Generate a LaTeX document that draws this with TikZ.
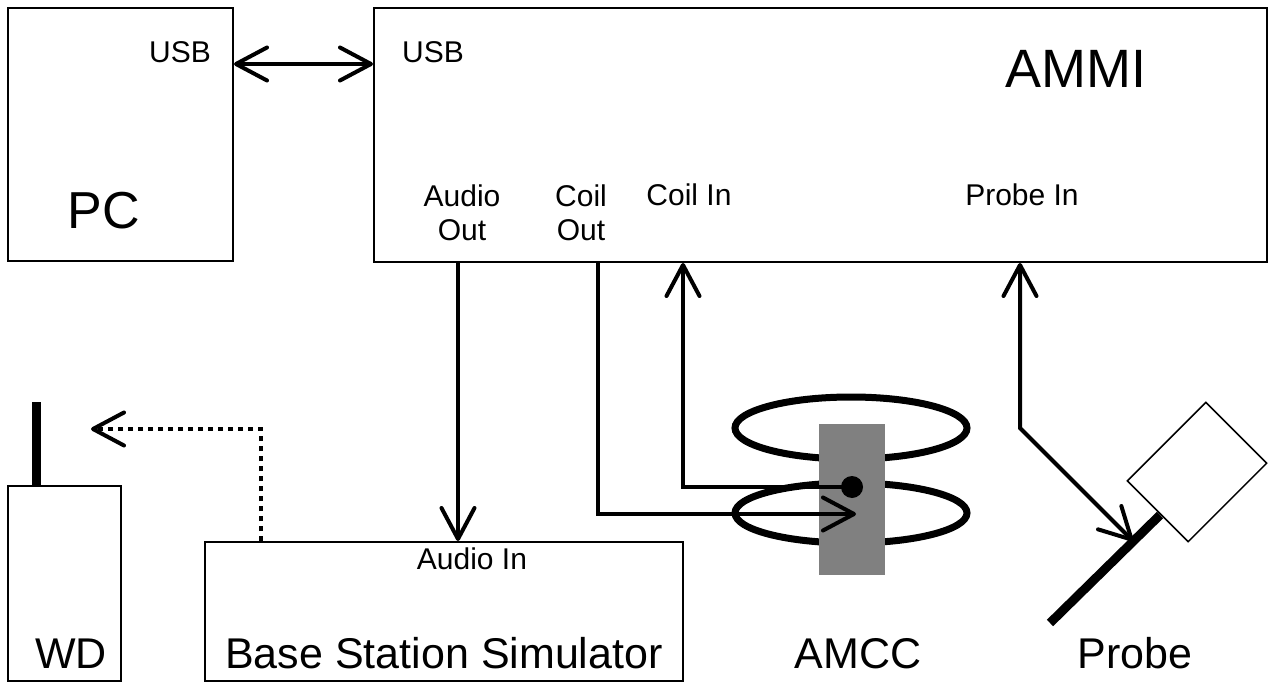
\documentclass[tikz,border=0pt]{standalone}
\usepackage{fontspec}
\setmainfont{Liberation Sans}
\usetikzlibrary{arrows.meta}
\begin{document}
\begin{tikzpicture}[x=1pt,y=-1pt,
  box/.style={draw, line width=2pt, inner sep=0pt, anchor=north west},
  arr/.style={line width=4pt, -{Straight Barb[length=31pt,width=33pt,round]}},
  arrb/.style={line width=4pt, {Straight Barb[length=31pt,width=33pt,round]}-{Straight Barb[length=31pt,width=33pt,round]}},
  dotarr/.style={line width=4pt, dash pattern=on 5pt off 5pt, -{Straight Barb[length=31pt,width=33pt,round]}},
  small/.style={font=\fontsize{30}{33}\selectfont, inner sep=0pt, anchor=base, align=center},
  big/.style={font=\fontsize{43}{48}\selectfont, inner sep=0pt, anchor=base},
  huge/.style={font=\fontsize{54}{60}\selectfont, inner sep=0pt, anchor=base}]
\useasboundingbox (0,0) rectangle (1272,682);
% boxes
\node[box, minimum width=225pt, minimum height=253pt] (pc) at (7,7) {};
\node[box, minimum width=893pt, minimum height=254pt] (ammi) at (373,7) {};
\node[box, minimum width=113pt, minimum height=195pt] (wd) at (7,485) {};
\node[box, minimum width=478pt, minimum height=139pt] (bss) at (204,541) {};
% coils and core
\draw[line width=7pt] (851,428) ellipse [x radius=116, y radius=31];
\draw[line width=7pt] (851,513) ellipse [x radius=116, y radius=30];
\node[fill={rgb,255:red,128;green,128;blue,128}, inner sep=0pt, minimum width=66pt, minimum height=151pt, anchor=north west] (core) at (819,424) {};
\node[fill=black, circle, inner sep=0pt, minimum size=22pt] (dot) at (852,487) {};
% probe
\node[draw, line width=1.5pt, fill=white, minimum width=111pt, minimum height=86pt, rotate=45, inner sep=0pt] (phead) at (1197,472) {};
\coordinate (stickA) at (1050,623);
\coordinate (stickB) at (1160,515);
\draw[line width=9pt] (stickA) -- (stickB);
% antenna
\coordinate (antTop) at (36,402);
\draw[line width=9pt] (antTop) -- (wd.north -| antTop);
% port coordinates
\coordinate (usbY) at (0,64);
\coordinate (aoX) at (458,0);
\coordinate (coX) at (598,0);
\coordinate (ciX) at (683,0);
\coordinate (piX) at (1020,0);
\coordinate (coilTip) at (856,514);
\coordinate (pBend) at (1020,428);
\coordinate (pTip) at (1133,541);
\coordinate (dotX) at (261,0);
\coordinate (wdTip) at (91,429);
% connectors
\draw[arrb] (pc.east |- usbY) -- (ammi.west |- usbY);
\draw[arr] (ammi.south -| aoX) -- (bss.north -| aoX);
\draw[arr] (ammi.south -| coX) |- (coilTip);
\draw[arr] (dot.center) -| (ammi.south -| ciX);
\draw[arrb] (ammi.south -| piX) -- (pBend) -- (pTip);
\draw[dotarr] (bss.north -| dotX) |- (wdTip);
% labels
\node[small] (usbpc) at (180,63) {USB};
\node[small] (usbam) at (433,63) {USB};
\node[huge] (ammit) at (1076,88) {AMMI};
\node[font=\fontsize{52}{58}\selectfont, inner sep=0pt, anchor=base] (pct) at (104,228) {PC};
\node[small] (aout) at (462,240) {Audio\\Out};
\node[small] (cout) at (581,240) {Coil\\Out};
\node[small] (cin) at (689,205) {Coil In};
\node[small] (pin) at (1022,205) {Probe In};
\node[small] (ain) at (472,569) {Audio In};
\node[big] (wdt) at (71,668) {WD};
\node[big] (bsst) at (444,668) {Base Station Simulator};
\node[big] (amcct) at (858,668) {AMCC};
\node[big] (probet) at (1135,668) {Probe};
\end{tikzpicture}
\end{document}
